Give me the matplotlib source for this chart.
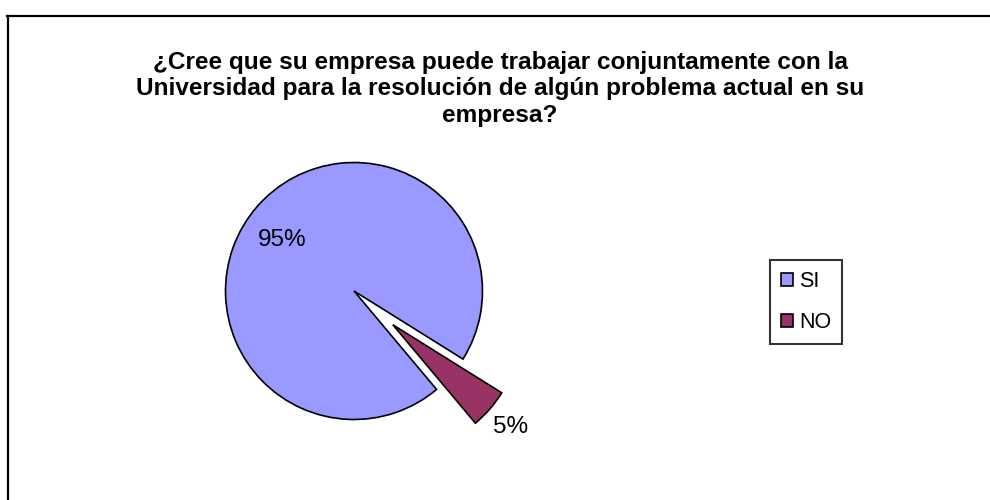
import matplotlib
matplotlib.use("Agg")
import matplotlib.pyplot as plt
from matplotlib.lines import Line2D
import numpy as np

plt.rcParams['font.family'] = ['Liberation Sans', 'DejaVu Sans']

categories = ["SI", "NO"]
values = [95, 5]
colors = ["#9999FF", "#993366"]
title = ("¿Cree que su empresa puede trabajar conjuntamente con la\n"
         "Universidad para la resolución de algún problema actual en su\n"
         "empresa?")

W, H = 990, 500
fig = plt.figure(figsize=(W / 100, H / 100), dpi=100)
fig.patch.set_facecolor("white")

# outer chart border (top and left visible, others cut off)
fig.add_artist(Line2D([7 / W, 1.0], [1 - 15.5 / H, 1 - 15.5 / H], transform=fig.transFigure,
                      color="black", lw=1.6))
fig.add_artist(Line2D([7.5 / W, 7.5 / W], [0, 1 - 15.5 / H], transform=fig.transFigure,
                      color="black", lw=1.6))

ax = fig.add_axes([0, 0, 1, 1])
cx, cy, r = 354, H - 291, 128.5
wedges, texts, autotexts = ax.pie(
    values, colors=colors, startangle=-32, counterclock=True,
    explode=[0, 0.4 * r], center=(cx, cy), radius=r,
    autopct=lambda p: f"{p:.0f}%", pctdistance=0.68,
    wedgeprops=dict(edgecolor="black", linewidth=1.2),
    textprops=dict(fontsize=17.5, color="black"))
ax.set_xlim(0, W)
ax.set_ylim(0, H)
ax.set_aspect("equal")
ax.axis("off")

# label placement similar to Excel's best fit
lab_cfg = [(144.5, 0.685), (None, 1.21)]
for w, t, (ang, dist) in zip(wedges, autotexts, lab_cfg):
    wcx, wcy = w.center
    a = np.deg2rad(ang if ang is not None else 0.5 * (w.theta1 + w.theta2))
    t.set_position((wcx + dist * r * np.cos(a), wcy + dist * r * np.sin(a)))
    t.set_ha("center")
    t.set_va("center")

fig.text(500 / W, 1 - 89 / H, title, ha="center", va="center", fontsize=17.6,
         fontweight="bold", linespacing=1.18)

leg = fig.legend(wedges, categories, loc="upper left",
                 bbox_to_anchor=(770 / W, 1 - 260 / H), fontsize=15.5,
                 frameon=True, fancybox=False, edgecolor="black",
                 handlelength=0.55, handleheight=0.55, handletextpad=0.3,
                 labelspacing=0.95, borderpad=0.5, borderaxespad=0)
leg.get_frame().set_linewidth(1.5)
for h in leg.legend_handles:
    h.set_linewidth(1.2)

fig.savefig("out.png", dpi=100)
